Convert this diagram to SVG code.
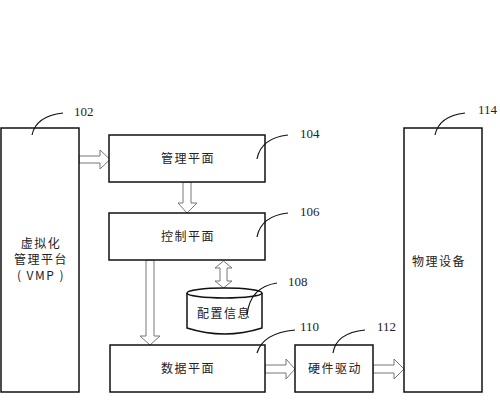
<svg xmlns="http://www.w3.org/2000/svg" width="500" height="400" viewBox="0 0 500 400">
<style>
.box{fill:#fff;stroke:#111;stroke-width:1.5}
.arr{fill:#fff;stroke:#777;stroke-width:1}
.lead{fill:none;stroke:#111;stroke-width:1.2}
.cn{font-family:"Noto Sans CJK SC",sans-serif;font-size:12px;fill:#222;text-anchor:middle;letter-spacing:1.5px}
.num{font-family:"Liberation Serif",serif;font-size:13px;fill:#222}
</style>
<rect width="500" height="400" fill="#fff"/>
<g id="connectors">
<polygon class="arr" points="79,156 100,156 100,150 110,159.5 100,169 100,163 79,163"/>
<polygon class="arr" points="183,182 191,182 191,203 197,203 187,213 178,203 183,203"/>
<polygon class="arr" points="146,260 154,260 154,336 160,336 150,345 140,336 146,336"/>
<polygon class="arr" points="223.5,261 232,268 227,268 227,281 232,281 223.5,288 215,281 220,281 220,268 215,268"/>
<polygon class="arr" points="265,365 286,365 286,359 295,369 286,379 286,373 265,373"/>
<polygon class="arr" points="373,365 394,365 394,359 404,369 394,379 394,373 373,373"/>
</g>
<g id="vmp">
<rect class="box" x="1" y="128" width="78" height="264"/>
<text class="cn" x="41" y="248">虚拟化</text>
<text class="cn" x="41" y="264">管理平台</text>
<text class="cn" x="41" y="280">( VMP )</text>
<path class="lead" d="M32,135 Q36,116 63,113"/>
<text class="num" x="74" y="116">102</text>
</g>
<g id="mgmt">
<rect class="box" x="109" y="135" width="156" height="47"/>
<text class="cn" x="188" y="163">管理平面</text>
<path class="lead" d="M257,159 Q261,138 288,135"/>
<text class="num" x="300" y="138">104</text>
</g>
<g id="ctrl">
<rect class="box" x="109" y="213" width="156" height="47"/>
<text class="cn" x="188" y="241">控制平面</text>
<path class="lead" d="M257,237 Q261,216 288,213"/>
<text class="num" x="300" y="216">106</text>
</g>
<g id="config">
<path class="box" d="M187,293 L187,328 Q224.5,340 262,328 L262,293"/>
<ellipse class="box" cx="224.5" cy="293" rx="37.5" ry="5"/>
<text class="cn" x="224" y="318">配置信息</text>
<path class="lead" d="M247,315 Q250,287 277,283"/>
<text class="num" x="288" y="286">108</text>
</g>
<g id="data">
<rect class="box" x="110" y="345" width="155" height="47"/>
<text class="cn" x="188" y="373">数据平面</text>
<path class="lead" d="M257,353 Q263,333 295,330"/>
<text class="num" x="300" y="331">110</text>
</g>
<g id="driver">
<rect class="box" x="295" y="345" width="78" height="47"/>
<text class="cn" x="335" y="373">硬件驱动</text>
<path class="lead" d="M333,353 Q336,333 365,330"/>
<text class="num" x="377" y="331">112</text>
</g>
<g id="phys">
<rect class="box" x="404" y="128" width="78" height="264"/>
<text class="cn" x="439" y="266">物理设备</text>
<path class="lead" d="M435,135 Q439,116 465,113"/>
<text class="num" x="478" y="114">114</text>
</g>
</svg>
